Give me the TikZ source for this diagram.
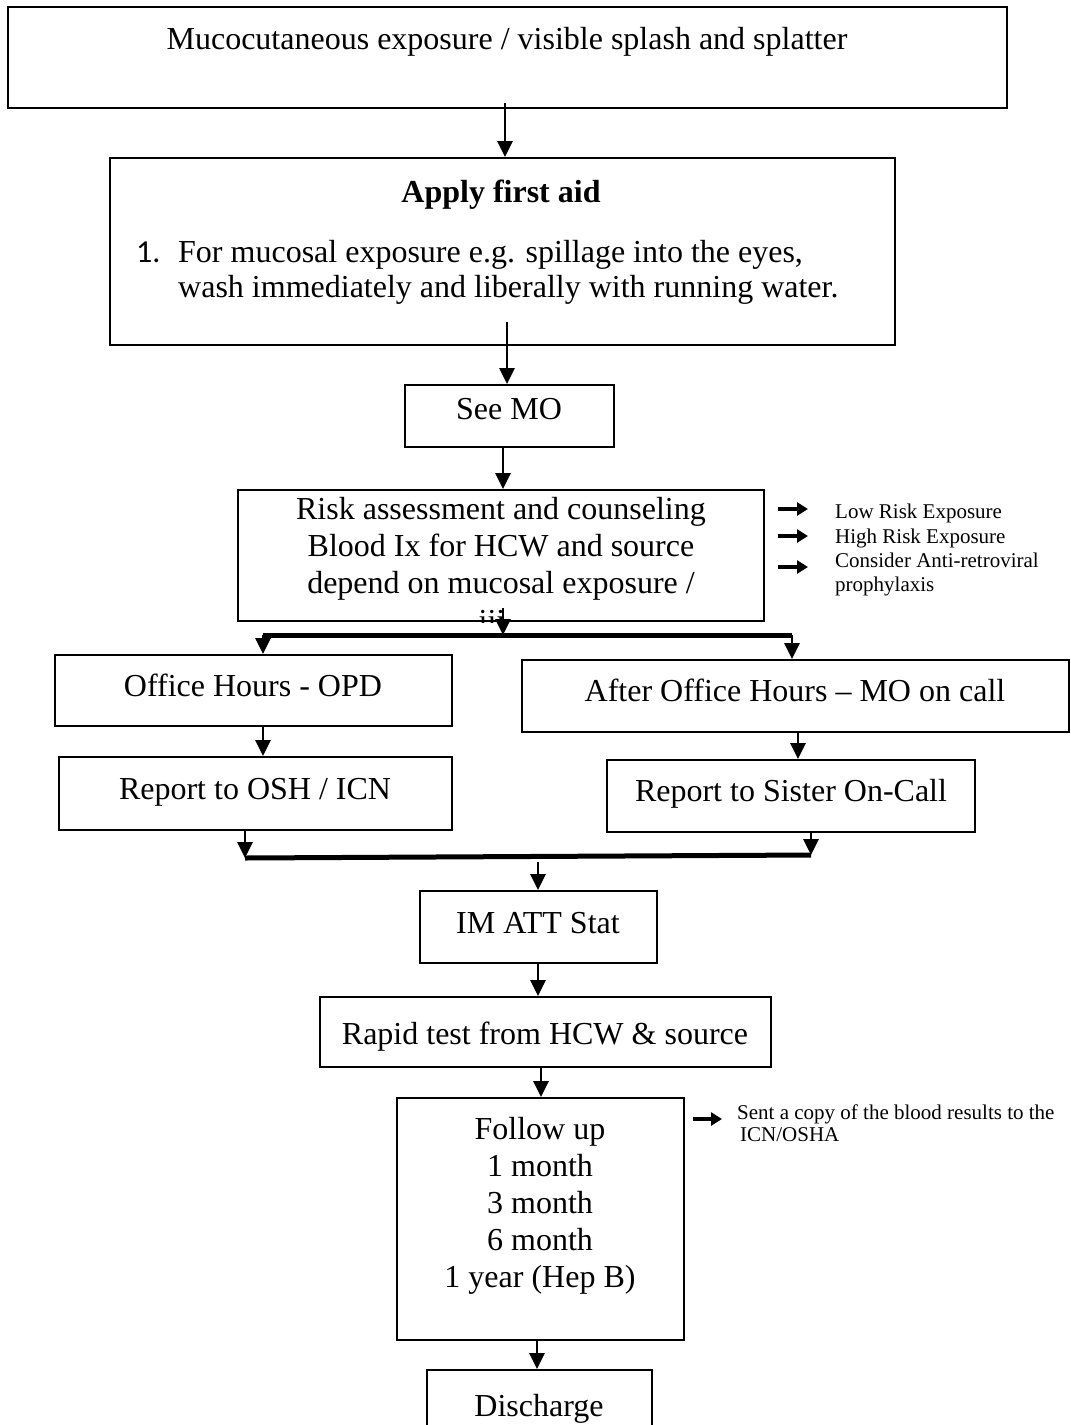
\documentclass[tikz,border=0pt]{standalone}
\usepackage{fontspec}
\setmainfont{Liberation Serif}
\newfontfamily\calib{Carlito}
\usetikzlibrary{arrows.meta}
\begin{document}
\begin{tikzpicture}[x=1pt,y=-1pt,
  box/.style={draw, line width=1.8pt, inner sep=0pt},
  arr/.style={line width=2.8pt, -{Triangle[width=15pt,length=16pt]}},
  sarr/.style={line width=4pt, -{Triangle[width=13pt,length=11pt]}},
  bar/.style={line width=5pt},
  big/.style={font=\fontsize{32}{37}\selectfont, inner sep=0pt, anchor=base},
  bigl/.style={font=\fontsize{32}{37}\selectfont, inner sep=0pt, anchor=base west},
  small/.style={font=\fontsize{21}{24}\selectfont, inner sep=0pt, anchor=base west},
]
\useasboundingbox (0,0) rectangle (1071,1425);

% boxes
\node[box, minimum width=999pt, minimum height=101pt] (b1) at (507.5,57.5) {};
\node[box, minimum width=785pt, minimum height=187pt] (b2) at (502.5,251.5) {};
\node[box, minimum width=209pt, minimum height=62pt] (b3) at (509.5,416) {};
\node[box, minimum width=526pt, minimum height=131pt] (b4) at (501,555.5) {};
\node[box, minimum width=397pt, minimum height=71pt] (b5) at (253.5,690.5) {};
\node[box, minimum width=547pt, minimum height=72pt] (b6) at (795.5,696) {};
\node[box, minimum width=393pt, minimum height=73pt] (b7) at (255.5,793.5) {};
\node[box, minimum width=368pt, minimum height=72pt] (b8) at (791,796) {};
\node[box, minimum width=237pt, minimum height=72pt] (b9) at (538.5,927) {};
\node[box, minimum width=451pt, minimum height=70pt] (b10) at (545.5,1032) {};
\node[box, minimum width=287pt, minimum height=242pt] (b11) at (540.5,1219) {};
\node[box, minimum width=225pt, minimum height=70pt] (b12) at (539.5,1405) {};

% texts
\node[big] (t1) at (507,49) {Mucocutaneous exposure / visible splash and splatter};
\node[big] (t2) at (501,202) {\bfseries Apply first aid};
\node[bigl] (t2n) at (136,262) {\calib 1.};
\node[bigl] (t2a) at (178,262) {For mucosal exposure e.g. spillage into the eyes,};
\node[bigl] (t2b) at (178,297) {wash immediately and liberally with running water.};
\node[big] (t3) at (509,419) {See MO};
\node[big] (t4a) at (501,519) {Risk assessment and counseling};
\node[big] (t4b) at (501,556) {Blood Ix for HCW and source};
\node[big] (t4c) at (501,593) {depend on mucosal exposure /};
\begin{scope}
  \clip (b4.north west) rectangle ([yshift=-1pt]b4.south east);
  \node[big] (t4d) at (492,631) {iii};
\end{scope}
\node[big] (t5) at (253,696) {Office Hours - OPD};
\node[big] (t6) at (795,701) {After Office Hours -- MO on call};
\node[big] (t7) at (255,799) {Report to OSH / ICN};
\node[big] (t8) at (791,801) {Report to Sister On-Call};
\node[big] (t9) at (538,933) {IM ATT Stat};
\node[big] (t10) at (545,1044) {Rapid test from HCW \& source};
\node[big] (t11a) at (540,1139) {Follow up};
\node[big] (t11b) at (540,1176) {1 month};
\node[big] (t11c) at (540,1213) {3 month};
\node[big] (t11d) at (540,1250) {6 month};
\node[big] (t11e) at (540,1287) {1 year (Hep B)};
\node[big] (t12) at (539,1416) {Discharge};

% side notes
\node[small] (s1) at (835,518) {Low Risk Exposure};
\node[small] (s2) at (835,543) {High Risk Exposure};
\node[small] (s3) at (835,567) {Consider Anti-retroviral};
\node[small] (s4) at (835,591) {prophylaxis};
\node[small] (s5) at (737,1119) {Sent a copy of the blood results to the};
\node[small] (s6) at (740,1141) {ICN/OSHA};

\coordinate (a1s) at (778,509); \coordinate (a1e) at (808,509);
\coordinate (a2s) at (778,536); \coordinate (a2e) at (808,536);
\coordinate (a3s) at (778,567); \coordinate (a3e) at (808,567);
\draw[sarr] (a1s) -- (a1e);
\draw[sarr] (a2s) -- (a2e);
\draw[sarr] (a3s) -- (a3e);
\coordinate (a4s) at (693,1119); \coordinate (a4e) at (722,1119);
\draw[sarr] (a4s) -- (a4e);

% main connectors
\coordinate (c1) at (505,103);
\draw[arr] (c1) -- (c1 |- b2.north);
\coordinate (c2) at (507,322);
\draw[arr] (c2) -- (c2 |- b3.north);
\coordinate (c3) at (503,447);
\draw[arr] (c3) -- (c3 |- b4.north);

% split
\coordinate (c4) at (503,608);
\coordinate (sp) at (503,635);
\coordinate (spL) at (263,635);
\coordinate (spR) at (792,635);
\draw[arr] (c4) -- (sp);
\draw[bar] (spL) -- (spR);
\draw[arr] (spL) -- (spL |- b5.north);
\draw[arr] (spR) -- (spR |- b6.north);

\coordinate (c5) at (263,726);
\draw[arr] (c5) -- (c5 |- b7.north);
\coordinate (c6) at (798,732);
\draw[arr] (c6) -- (c6 |- b8.north);

% merge
\coordinate (c7) at (245,830);
\coordinate (c8) at (811,832);
\coordinate (mL) at (245,858);
\coordinate (mR) at (811,855);
\draw[arr] (c7) -- (mL);
\draw[arr] (c8) -- (mR);
\draw[bar] (mL) -- (mR);
\coordinate (mC) at (538,862);
\draw[arr] (mC) -- (mC |- b9.north);

\coordinate (c9) at (538,963);
\draw[arr] (c9) -- (c9 |- b10.north);
\coordinate (c10) at (541,1067);
\draw[arr] (c10) -- (c10 |- b11.north);
\coordinate (c11) at (537,1340);
\draw[arr] (c11) -- (c11 |- b12.north);
\end{tikzpicture}
\end{document}
